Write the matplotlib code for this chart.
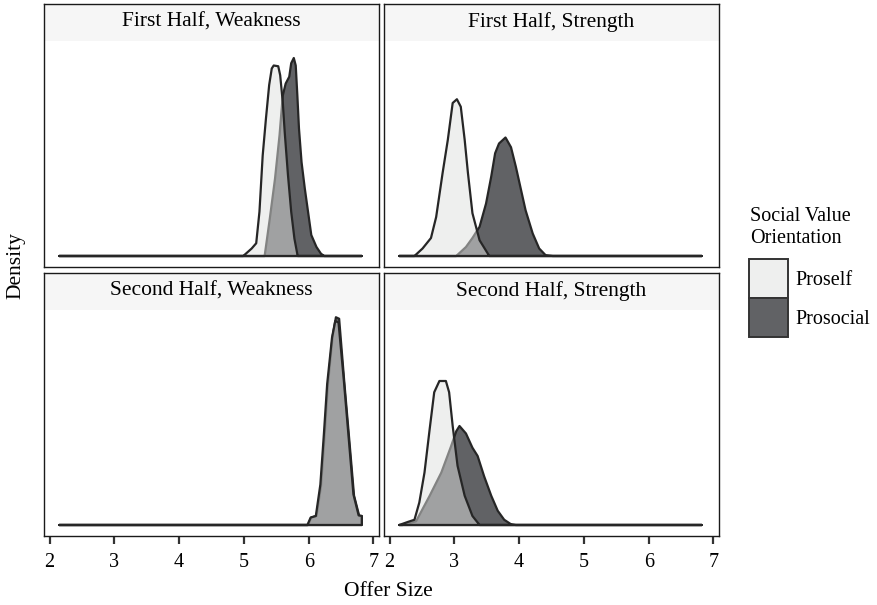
import matplotlib
matplotlib.use("Agg")
import matplotlib.pyplot as plt
from matplotlib.patches import Patch

plt.rcParams['font.family'] = ['Liberation Serif', 'DejaVu Serif']

# density curves (x = offer size, y = density)
panel_titles = ["First Half, Weakness", "First Half, Strength",
                "Second Half, Weakness", "Second Half, Strength"]
groups = ["Proself", "Prosocial"]

fw_self_x = [2.15, 4.99, 5.12, 5.19, 5.24, 5.29, 5.34, 5.39, 5.43, 5.46, 5.53, 5.56, 5.60, 5.63, 5.68, 5.73, 5.78, 5.83, 6.82]
fw_self_y = [0, 0, 0.10, 0.17, 0.59, 1.34, 1.83, 2.28, 2.50, 2.54, 2.53, 2.41, 2.05, 1.65, 1.08, 0.59, 0.23, 0, 0]
fw_soc_x = [2.15, 5.32, 5.40, 5.48, 5.55, 5.60, 5.645, 5.70, 5.73, 5.77, 5.80, 5.825, 5.85, 5.89, 5.94, 5.99, 6.04, 6.12, 6.19, 6.24, 6.82]
fw_soc_y = [0, 0, 0.50, 1.03, 1.61, 2.14, 2.30, 2.39, 2.57, 2.64, 2.54, 2.14, 1.70, 1.25, 0.90, 0.59, 0.28, 0.12, 0.03, 0, 0]

fs_self_x = [2.15, 2.385, 2.51, 2.64, 2.72, 2.82, 2.90, 2.975, 3.04, 3.10, 3.16, 3.21, 3.28, 3.39, 3.54, 6.82]
fs_self_y = [0, 0, 0.10, 0.24, 0.52, 1.11, 1.55, 2.04, 2.09, 1.99, 1.55, 1.11, 0.57, 0.21, 0, 0]
fs_soc_x = [2.15, 3.03, 3.18, 3.28, 3.39, 3.49, 3.57, 3.63, 3.69, 3.79, 3.875, 3.95, 4.03, 4.10, 4.21, 4.31, 4.41, 4.52, 6.82]
fs_soc_y = [0, 0, 0.12, 0.24, 0.39, 0.70, 1.06, 1.37, 1.50, 1.58, 1.45, 1.19, 0.88, 0.61, 0.30, 0.10, 0.01, 0, 0]

sw_self_x = [2.15, 5.98, 6.03, 6.11, 6.18, 6.235, 6.285, 6.36, 6.41, 6.46, 6.54, 6.62, 6.69, 6.77, 6.82, 6.82]
sw_self_y = [0, 0, 0.10, 0.12, 0.54, 1.22, 1.88, 2.50, 2.72, 2.70, 1.95, 1.13, 0.41, 0.13, 0.12, 0]
sw_soc_x = [2.15, 5.99, 6.04, 6.12, 6.19, 6.245, 6.295, 6.37, 6.42, 6.47, 6.55, 6.63, 6.70, 6.78, 6.82, 6.82]
sw_soc_y = [0, 0, 0.10, 0.12, 0.52, 1.19, 1.86, 2.52, 2.77, 2.75, 1.90, 1.10, 0.39, 0.12, 0.12, 0]

ss_self_x = [2.15, 2.28, 2.385, 2.46, 2.54, 2.62, 2.69, 2.77, 2.87, 2.92, 2.975, 3.05, 3.16, 3.28, 3.39, 6.82]
ss_self_y = [0, 0.04, 0.07, 0.30, 0.70, 1.28, 1.77, 1.92, 1.92, 1.77, 1.32, 0.79, 0.39, 0.12, 0, 0]
ss_soc_x = [2.15, 2.20, 2.41, 2.62, 2.80, 2.95, 3.03, 3.08, 3.18, 3.28, 3.36, 3.46, 3.57, 3.67, 3.77, 3.875, 3.95, 6.82]
ss_soc_y = [0, 0, 0.05, 0.39, 0.70, 1.05, 1.25, 1.32, 1.22, 1.03, 0.92, 0.65, 0.39, 0.19, 0.07, 0.01, 0, 0]

curves = [
    ((fw_self_x, fw_self_y), (fw_soc_x, fw_soc_y)),
    ((fs_self_x, fs_self_y), (fs_soc_x, fs_soc_y)),
    ((sw_self_x, sw_self_y), (sw_soc_x, sw_soc_y)),
    ((ss_self_x, ss_self_y), (ss_soc_x, ss_soc_y)),
]
xticks = [2, 3, 4, 5, 6, 7]

self_fill = (223/255, 224/255, 223/255, 0.5)
soc_fill = "#616265"
edge = "#262626"

W, H = 877, 605
fig = plt.figure(figsize=(W/100, H/100), dpi=100)

# panel boxes in pixels (left, top, right, bottom)
boxes = [(44, 4, 379, 267), (384, 4, 719, 267), (44, 273, 379, 536), (384, 273, 719, 536)]
px = 75.0  # pixels per density unit
ymin = -11/px
strip_lo = 215/px

for i, (l, t, r, b) in enumerate(boxes):
    ax = fig.add_axes([l/W, 1-b/H, (r-l)/W, (b-t)/H])
    ymax = ymin + (b-t)/px
    ax.set_xlim(1.915, 7.085)
    ax.set_ylim(ymin, ymax)
    ax.axhspan(strip_lo, ymax, color="#f6f6f6", lw=0, zorder=0)
    ax.text(4.5, ymax - 23/px, panel_titles[i], ha="center", va="baseline", fontsize=15.5)
    (sx, sy), (cx, cy) = curves[i]
    ax.fill(cx, cy, facecolor=soc_fill, edgecolor=edge, lw=1.6, joinstyle="round", zorder=2)
    ax.fill(sx, sy, facecolor=self_fill, edgecolor=edge, lw=1.6, joinstyle="round", zorder=3)
    ax.set_yticks([])
    for s in ax.spines.values():
        s.set_color("#1a1a1a")
        s.set_linewidth(1.0)
    if i >= 2:
        ax.set_xticks(xticks)
        ax.set_xticklabels([str(v) for v in xticks], fontsize=14.5)
        ax.tick_params(axis="x", length=6, width=1.6, color="#333333", pad=6)
    else:
        ax.set_xticks([])

fig.text(16/W, 1-266/H, "Density", rotation=90, ha="center", va="center", fontsize=15.5)
fig.text(388/W, 1-591/H, "Offer Size", ha="center", va="center", fontsize=15.5)

# legend
fig.text(750/W, 1-221/H, "Social Value", ha="left", va="baseline", fontsize=14.5)
fig.text(750/W, 1-243/H, "Orientation", ha="left", va="baseline", fontsize=14.5)
handles = [Patch(facecolor=self_fill, edgecolor="#333333", lw=1.4),
           Patch(facecolor=soc_fill, edgecolor="#333333", lw=1.4)]
fig.legend(handles, groups, loc="upper left", bbox_to_anchor=(749/W, 1-259/H),
           frameon=False, fontsize=14.5, handlelength=1.95, handleheight=2.6,
           labelspacing=0.0, handletextpad=0.35, borderaxespad=0, borderpad=0)

fig.savefig("out.png", dpi=100)
